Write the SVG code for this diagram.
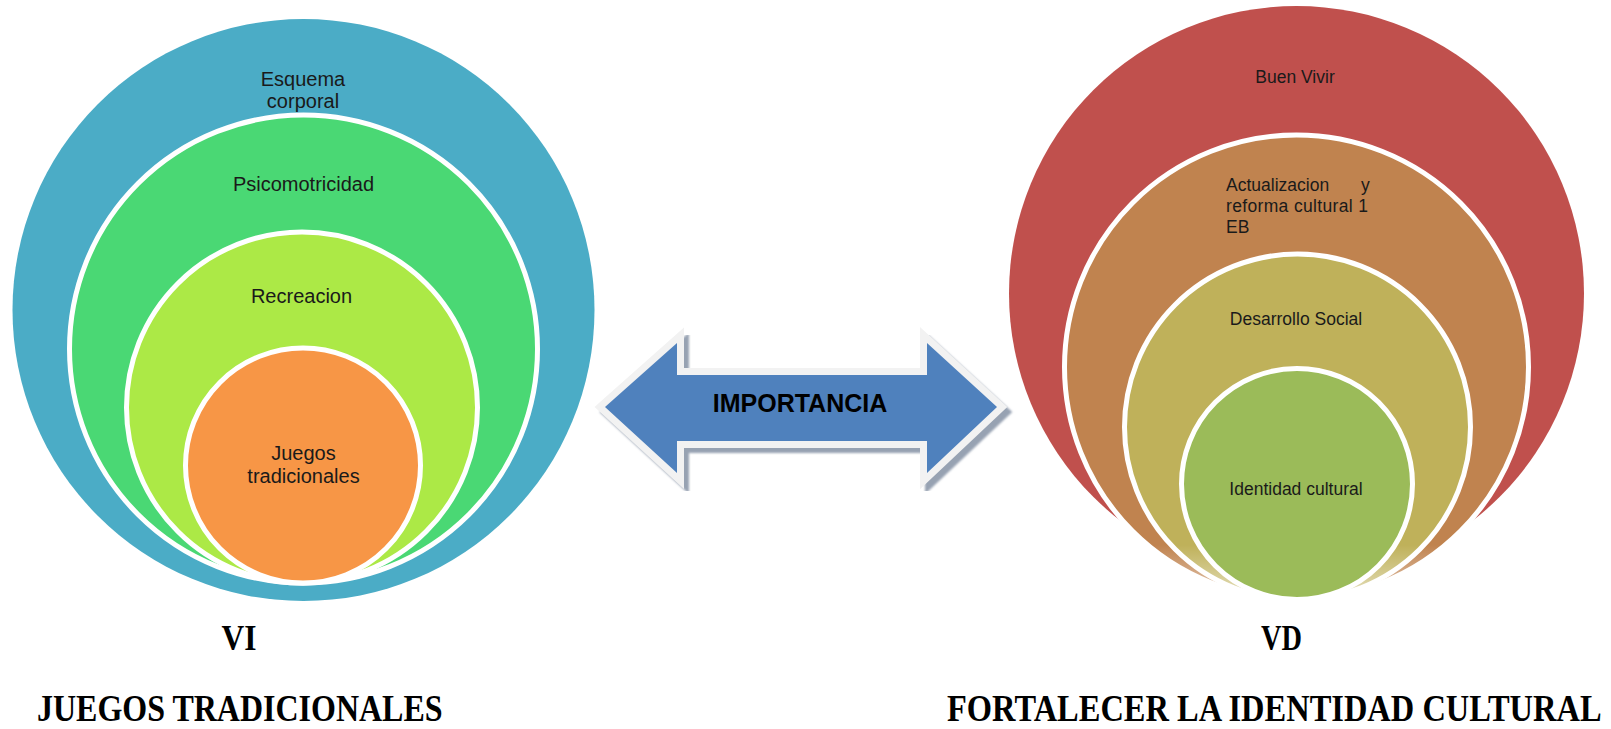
<svg xmlns="http://www.w3.org/2000/svg" width="1611" height="729" viewBox="0 0 1611 729">
  <defs>
    <style>
      .ring { stroke: #ffffff; stroke-width: 5; }
      .lbl { font-family: "Liberation Sans", Arial, sans-serif; fill: #1a1a1a; }
      .lft { font-size: 20px; text-anchor: middle; }
      .rgt { font-size: 17.5px; }
      .mid { text-anchor: middle; }
      .title { font-family: "Liberation Serif", "Times New Roman", serif; font-weight: bold; fill: #000; }
    </style>
    <linearGradient id="fade" x1="0" y1="0" x2="0" y2="1">
      <stop offset="0" stop-color="#ffffff" stop-opacity="0"/>
      <stop offset="0.55" stop-color="#ffffff" stop-opacity="0.4"/>
      <stop offset="1" stop-color="#ffffff" stop-opacity="0.95"/>
    </linearGradient>
    <filter id="soft" x="-10%" y="-10%" width="120%" height="120%">
      <feGaussianBlur stdDeviation="1"/>
    </filter>
  </defs>
  <rect width="1611" height="729" fill="#ffffff"/>

  <!-- Left stacked circles (VI) -->
  <g id="esquema-corporal">
    <circle cx="303.5" cy="310" r="291" fill="#4BACC6"/>
    <text class="lbl lft" x="303" y="85.5">Esquema</text>
    <text class="lbl lft" x="303" y="108">corporal</text>
  </g>
  <g id="psicomotricidad">
    <circle class="ring" cx="303.5" cy="349" r="234" fill="#4AD874"/>
    <text class="lbl lft" x="303.5" y="190.5">Psicomotricidad</text>
  </g>
  <g id="recreacion">
    <circle class="ring" cx="302" cy="407.5" r="175.5" fill="#ACE946"/>
    <text class="lbl lft" x="301.5" y="302.5">Recreacion</text>
  </g>
  <g id="juegos-tradicionales">
    <circle class="ring" cx="303" cy="465.5" r="117.5" fill="#F79646"/>
    <text class="lbl lft" x="303.5" y="460">Juegos</text>
    <text class="lbl lft" x="303.5" y="482.5">tradicionales</text>
  </g>

  <!-- Right stacked circles (VD) -->
  <g id="buen-vivir">
    <circle cx="1296.5" cy="293.5" r="287.5" fill="#C0504D"/>
    <text class="lbl rgt mid" x="1295" y="83">Buen Vivir</text>
  </g>
  <g id="actualizacion">
    <circle class="ring" cx="1296.5" cy="367" r="232" fill="#C0834F"/>
    <text class="lbl rgt" y="191"><tspan x="1226">Actualizacion</tspan><tspan x="1361">y</tspan></text>
    <text class="lbl rgt" x="1226" y="211.5" textLength="142" lengthAdjust="spacing">reforma cultural 1</text>
    <text class="lbl rgt" x="1226" y="232.5">EB</text>
  </g>
  <g id="desarrollo-social">
    <circle class="ring" cx="1297.5" cy="427" r="173" fill="#BFB15A"/>
    <text class="lbl rgt mid" x="1296" y="325">Desarrollo Social</text>
  </g>
  <rect x="1040" y="545" width="520" height="65" fill="url(#fade)"/>
  <g id="identidad-cultural">
    <circle class="ring" cx="1297" cy="484" r="115.5" fill="#9BBB59"/>
    <text class="lbl rgt mid" x="1296" y="495">Identidad cultural</text>
  </g>

  <!-- Connector: double-headed block arrow -->
  <g id="connectors">
    <g id="importancia">
      <polygon points="605,407 677,343 677,375 927,375 927,343 997,407 927,473 927,441 677,441 677,473" transform="translate(5,5)" fill="#97A2B2" stroke="#97A2B2" stroke-width="14" stroke-linejoin="miter" filter="url(#soft)"/>
      <polygon points="605,407 677,343 677,375 927,375 927,343 997,407 927,473 927,441 677,441 677,473" fill="#4F81BD" stroke="#F2F2F2" stroke-width="14" stroke-linejoin="miter" paint-order="stroke"/>
      <text x="800" y="411.5" font-family="Liberation Sans, Arial, sans-serif" font-weight="bold" font-size="25" text-anchor="middle" fill="#000000">IMPORTANCIA</text>
    </g>
  </g>

  <!-- Captions -->
  <g id="caption-vi">
    <text class="title" x="221.5" y="649.5" font-size="35" textLength="35" lengthAdjust="spacingAndGlyphs">VI</text>
    <text class="title" transform="translate(37,720.5) scale(1,1.17)" x="0" y="0" font-size="32">JUEGOS TRADICIONALES</text>
  </g>
  <g id="caption-vd">
    <text class="title" x="1261" y="649.5" font-size="35" textLength="41" lengthAdjust="spacingAndGlyphs">VD</text>
    <text class="title" transform="translate(947,720.5) scale(1.015,1.17)" x="0" y="0" font-size="32">FORTALECER LA IDENTIDAD CULTURAL</text>
  </g>
</svg>
